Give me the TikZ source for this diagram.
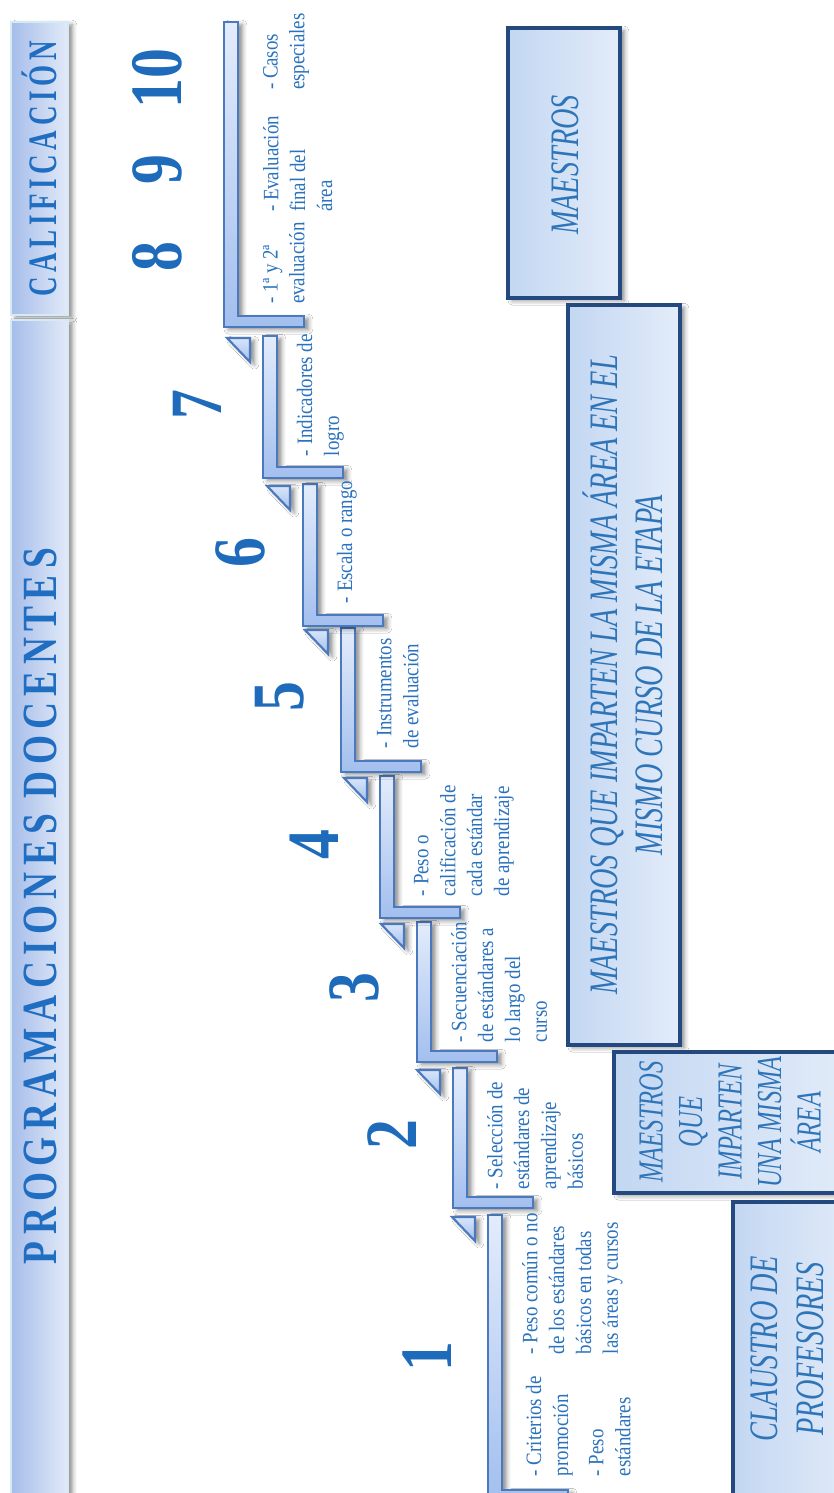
\documentclass[tikz,border=0pt]{standalone}
\usepackage{fontspec}
\setmainfont{Liberation Serif}
\newfontfamily\spacedfont[LetterSpace=17]{Liberation Serif}
\usetikzlibrary{shadows.blur}
\definecolor{txtblue}{HTML}{2A72BE}
\definecolor{numblue}{HTML}{1D6BBA}
\definecolor{barline}{HTML}{4A79BE}
\definecolor{barlight}{HTML}{E3ECFB}
\definecolor{bardark}{HTML}{A3BFEE}
\definecolor{trilight}{HTML}{D8E5FA}
\definecolor{boxline}{HTML}{23497E}
\definecolor{boxleft}{HTML}{C3D7F2}
\definecolor{boxright}{HTML}{E3ECF9}
\definecolor{banleft}{HTML}{A6BDEA}
\definecolor{banright}{HTML}{E2EAF8}
\definecolor{banedge}{HTML}{D4EBF5}
\definecolor{bantext}{HTML}{1F6EC2}
\definecolor{boxtxt}{HTML}{2E74B8}
\tikzset{
  softshadow/.style={blur shadow={shadow xshift=2.5pt, shadow yshift=-1.5pt, shadow blur radius=2.5pt, shadow opacity=45}},
  stepfill/.style={softshadow, draw=barline, line width=1.3pt, top color=barlight, bottom color=bardark},
  trifill/.style={softshadow, draw=barline, line width=1.2pt, top color=trilight, bottom color=bardark},
  banner/.style={softshadow, draw=banedge, line width=1.5pt, left color=banleft, right color=banright},
  boxfill/.style={softshadow, draw=boxline, line width=2.2pt, left color=boxleft, right color=boxright},
  rot/.style={rotate=90, inner sep=0pt, outer sep=0pt},
  steptext/.style={rot, xscale=0.86, anchor=north west, align=left, text=txtblue, font=\fontsize{12.5}{15.3}\selectfont},
  num/.style={rot, xscale=0.81, anchor=center, text=numblue, font=\fontsize{42}{42}\selectfont\bfseries},
  bantxt/.style={rot, anchor=center, text=bantext},
  boxtext/.style={rot, xscale=0.7, anchor=center, align=center, text=boxtxt, font=\fontsize{23}{26}\selectfont\itshape},
}
\newcommand\stepbar[3]{\path[stepfill] (#1,#2) -- ({#1+14},#2) -- ({#1+14},{#3-11}) -- ({#1+80},{#3-11}) -- ({#1+80},#3) -- (#1,#3) -- cycle;}
\newcommand\steptri[2]{\path[trifill] ({#1-36},{#2+2}) -- ({#1-13},{#2+2}) -- ({#1-13},{#2+26}) -- cycle;}
\begin{document}
\begin{tikzpicture}[x=0.02cm, y=-0.02cm]
\useasboundingbox (0,0) rectangle (834,1493);
\clip (0,0) rectangle (834,1493);
\fill[white] (0,0) rectangle (834,1493);
% banners
\path[banner] (11,22) rectangle (68,315);
\path[banner] (11,320) rectangle (68,1510);
\node[bantxt, xscale=0.67, font=\fontsize{23}{23}\spacedfont\bfseries] (cal) at (39,169) {CALIFICACIÓN};
\node[bantxt, xscale=0.76, font=\fontsize{28}{28}\spacedfont\bfseries] (prog) at (40,906) {PROGRAMACIONES DOCENTES};
% steps
\stepbar{488}{1215}{1501}
\stepbar{453}{1068}{1208}
\stepbar{417}{922}{1062}
\stepbar{380}{776}{918}
\stepbar{341}{628}{772}
\stepbar{303}{484}{626}
\stepbar{263}{336}{478}
\stepbar{224}{22}{327}
\steptri{488}{1215}
\steptri{453}{1068}
\steptri{417}{922}
\steptri{380}{776}
\steptri{341}{628}
\steptri{303}{484}
\steptri{263}{336}
% numbers
\node[num] (n1) at (427,1357) {1};
\node[num] (n2) at (392,1135) {2};
\node[num] (n3) at (354,988) {3};
\node[num] (n4) at (314,845) {4};
\node[num] (n5) at (280,697) {5};
\node[num] (n6) at (240,553) {6};
\node[num] (n7) at (197,405) {7};
\node[num] (n8) at (157,257) {8};
\node[num] (n9) at (157,170) {9};
\node[num] (n10) at (157,79) {10};
% step texts
\node[steptext] (t1a) at (526,1476) {- Criterios de\\promoción};
\node[steptext] (t1b) at (589,1476) {- Peso\\estándares};
\node[steptext] (t1c) at (522,1354) {- Peso común o no\\de los estándares\\básicos en todas\\las áreas y cursos};
\node[steptext] (t2) at (487,1189) {- Selección de\\estándares de\\aprendizaje\\básicos};
\node[steptext] (t3) at (451,1042) {- Secuenciación\\de estándares a\\lo largo del\\curso};
\node[steptext] (t4) at (414,896) {- Peso o\\calificación de\\cada estándar\\de aprendizaje};
\node[steptext] (t5) at (377,748) {- Instrumentos\\de evaluación};
\node[steptext] (t6) at (337,603) {- Escala o rango};
\node[steptext] (t7) at (297,456) {- Indicadores de\\logro};
\node[steptext] (t8a) at (263,304) {- 1ª y 2ª\\evaluación};
\node[steptext] (t8b) at (263,212) {- Evaluación\\final del\\área};
\node[steptext] (t8c) at (263,90) {- Casos\\especiales};
% boxes
\path[boxfill] (508,28) rectangle (620,298);
\path[boxfill] (568,305) rectangle (680,1045);
\path[boxfill] (614,1052) rectangle (860,1193);
\path[boxfill] (733,1202) rectangle (860,1520);
\node[boxtext] (m1) at (565,165) {MAESTROS};
\node[boxtext] (m2) at (623,675) {MAESTROS QUE IMPARTEN LA MISMA ÁREA EN EL\\MISMO CURSO DE LA ETAPA};
\node[boxtext, font=\fontsize{20}{22.5}\selectfont\itshape] (m3) at (730,1122) {MAESTROS\\QUE\\IMPARTEN\\UNA MISMA\\ÁREA};
\node[boxtext] (m4) at (787,1349) {CLAUSTRO DE\\PROFESORES};
\end{tikzpicture}
\end{document}
